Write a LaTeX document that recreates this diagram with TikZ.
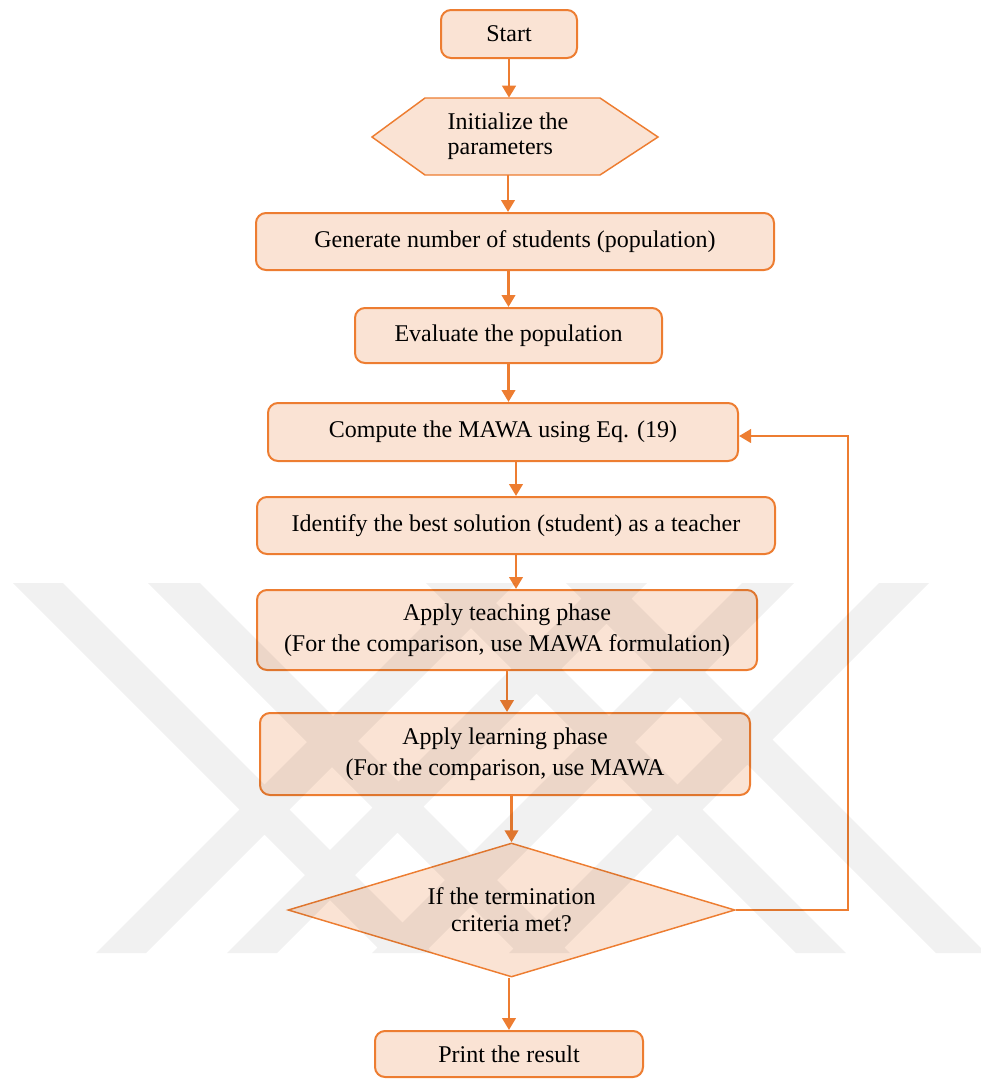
\documentclass[tikz,border=0pt]{standalone}
\usepackage{fontspec}
\setmainfont{Liberation Serif}
\usetikzlibrary{arrows.meta,shapes.geometric}
\definecolor{org}{RGB}{237,125,49}
\definecolor{peach}{RGB}{250,227,212}
\begin{document}
\begin{tikzpicture}[x=0.75pt,y=-0.75pt,
  box/.style={draw=org, line width=1.5pt, fill=peach, rounded corners=7.5pt,
    inner sep=0pt, align=center, font=\fontsize{18}{23}\selectfont},
  hexsty/.style={draw=org, line width=1.1pt, fill=peach},
  decsty/.style={shape=diamond, draw=org, line width=1.1pt, fill=peach, inner sep=0pt,
    shape aspect=3.34, align=center, font=\fontsize{18}{20}\selectfont,
    minimum width=335.25pt, minimum height=100.5pt},
  arr/.style={draw=org, line width=2.2pt, -{Triangle[width=10pt,length=9pt]}},
  wm/.style={fill=black, fill opacity=0.055}
  ]
\useasboundingbox (0,0) rectangle (981,1079);

% nodes
\node[box, minimum width=102pt, minimum height=36pt] (start) at (509,34) {Start};
\draw[hexsty] (372,137) -- (425,98) -- (600,98) -- (658,137) -- (600,175) -- (425,175) -- cycle;
\node[inner sep=0pt, align=left, font=\fontsize{18}{19}\selectfont,
      minimum width=214.5pt, minimum height=57.75pt] (init) at (508,136.5)
      {Initialize the\\parameters};
\node[box, minimum width=388.5pt, minimum height=42.75pt] (gen) at (515,241.5)
      {Generate number of students (population)};
\node[box, minimum width=230.25pt, minimum height=41.25pt] (eval) at (508.5,335.5)
      {Evaluate the population};
\node[box, minimum width=352.5pt, minimum height=43.5pt] (comp) at (503,432)
      {Compute the MAWA using Eq. (19)};
\node[box, minimum width=388.5pt, minimum height=42.75pt] (ident) at (516,525.5)
      {Identify the best solution (student) as a teacher};
\node[box, minimum width=375pt, minimum height=60pt] (teach) at (507,630)
      {Apply teaching phase\\(For the comparison, use MAWA formulation)};
\node[box, minimum width=367.5pt, minimum height=61.5pt] (learn) at (505,754)
      {Apply learning phase\\(For the comparison, use MAWA};
\node[decsty] (dec) at (511.5,910) {If the termination\\criteria met?};
\node[box, minimum width=201pt, minimum height=34.5pt] (print) at (509,1054)
      {Print the result};

% connectors
\draw[arr] (start.south) -- (start.south |- init.north);
\draw[arr] (init.south) -- (init.south |- gen.north);
\draw[arr] (eval.north |- gen.south) -- (eval.north);
\draw[arr] (eval.south) -- (eval.south |- comp.north);
\draw[arr] (ident.north |- comp.south) -- (ident.north);
\draw[arr] (ident.south) -- (ident.south |- teach.north);
\draw[arr] (teach.south) -- (teach.south |- learn.north);
\draw[arr] (dec.north |- learn.south) -- (dec.north);
\draw[arr] (print.north |- dec.south) -- (print.north);
\coordinate (lp1) at (848,910);
\coordinate (lp2) at (848,436);
\draw[arr] (dec.east) -- (lp1) -- (lp2) -- (comp.east |- lp2);

% watermark
\begin{scope}
\clip (0,583) rectangle (981,953);
\fill[wm]
  (13,583) -- (63,583) -- (433,953) -- (383,953) -- cycle
  (148,583) -- (200,583) -- (570,953) -- (518,953) -- cycle
  (426,583) -- (476,583) -- (846,953) -- (796,953) -- cycle
  (566,583) -- (616,583) -- (986,953) -- (936,953) -- cycle
  (466,583) -- (516,583) -- (146,953) -- (96,953) -- cycle
  (597,583) -- (647,583) -- (277,953) -- (227,953) -- cycle
  (742,583) -- (794,583) -- (424,953) -- (372,953) -- cycle
  (879,583) -- (929,583) -- (559,953) -- (509,953) -- cycle;
\end{scope}
\end{tikzpicture}
\end{document}
